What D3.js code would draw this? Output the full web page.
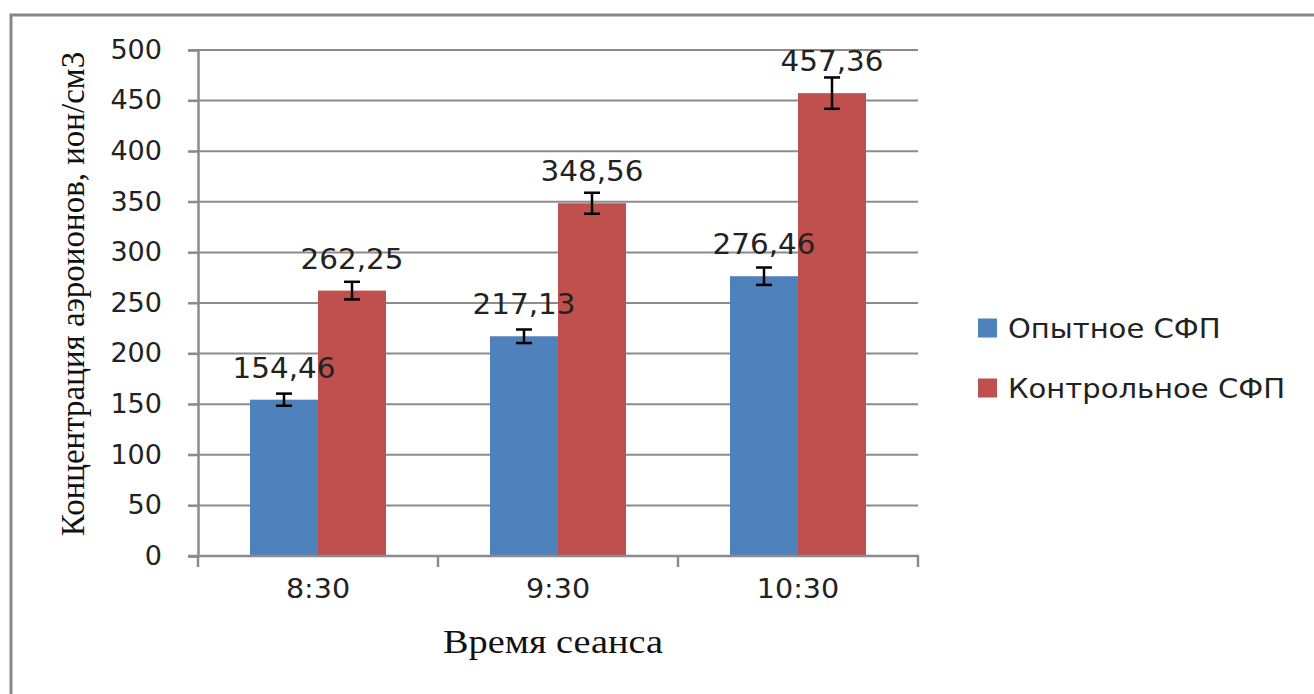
<!DOCTYPE html>
<html><head><meta charset="utf-8">
<script src="https://cdn.jsdelivr.net/npm/d3@7"></script>
<style>body{margin:0;background:#fff}svg{display:block}</style>
</head><body>
<svg id="c" width="1314" height="694"></svg>
<script>
const categories = ["8:30", "9:30", "10:30"];
const seriesNames = ["Опытное СФП", "Контрольное СФП"];
const experimental = [154.46, 217.13, 276.46];
const control = [262.25, 348.56, 457.36];
const experimentalErr = [6, 6.7, 8.6];
const controlErr = [8.7, 10.4, 15.5];
const yTicks = [0, 50, 100, 150, 200, 250, 300, 350, 400, 450, 500];
const colors = ["#4F81BD", "#C0504D"];
const yTitle = "Концентрация аэроионов, ион/см3";
const xTitle = "Время сеанса";

const values = [experimental, control];
const errs = [experimentalErr, controlErr];
const fmt = v => v.toFixed(2).replace(".", ",");

// widen text horizontally to match the reference rendering
function stretch(sel, f) {
  sel.each(function () {
    const w = this.getComputedTextLength();
    d3.select(this).attr("textLength", w * f).attr("lengthAdjust", "spacingAndGlyphs");
  });
}

const svg = d3.select("#c");
svg.append("rect").attr("x", 11).attr("y", 15).attr("width", 1400).attr("height", 800)
  .attr("fill", "none").attr("stroke", "#878787").attr("stroke-width", 3);

const x = d3.scaleBand().domain(categories).range([198, 918]).padding(0);
const xs = d3.scaleBand().domain([0, 1]).range([52, 188]).padding(0);
const y = d3.scaleLinear().domain([0, 500]).range([556, 50]);
const grid = "#8c8c8c";

svg.append("g").selectAll("line").data(yTicks.filter(d => d > 0)).join("line")
  .attr("x1", 188).attr("x2", 918).attr("y1", d => y(d)).attr("y2", d => y(d))
  .attr("stroke", grid).attr("stroke-width", 2);

const yAxis = svg.append("g").attr("transform", "translate(198,0)")
  .call(d3.axisLeft(y).tickValues(yTicks).tickSize(10).tickPadding(26));
yAxis.select(".domain").attr("stroke", grid).attr("stroke-width", 2.5);
yAxis.selectAll(".tick line").attr("stroke", grid).attr("stroke-width", 2);
yAxis.selectAll("text").attr("font-family", "DejaVu Sans").attr("font-size", 26).attr("fill", "#222")
  .call(stretch, 1.04);

values.forEach((vals, si) => {
  svg.append("g").selectAll("rect").data(vals).join("rect")
    .attr("x", (d, i) => x(categories[i]) + xs(si))
    .attr("width", xs.bandwidth())
    .attr("y", d => y(d))
    .attr("height", d => y(0) - y(d))
    .attr("fill", colors[si]);
});

const xAxis = svg.append("g").attr("transform", "translate(0,556)")
  .call(d3.axisBottom(x).tickSize(0).tickPadding(24));
xAxis.select(".domain").remove();
xAxis.selectAll("text").attr("font-family", "DejaVu Sans").attr("font-size", 26).attr("fill", "#222")
  .call(stretch, 1.1);
svg.append("line").attr("x1", 188).attr("x2", 919).attr("y1", 556).attr("y2", 556)
  .attr("stroke", grid).attr("stroke-width", 2.5);
const bounds = categories.map(c => x(c)).concat([x(categories[categories.length - 1]) + x.bandwidth()]);
svg.append("g").selectAll("line").data(bounds).join("line")
  .attr("x1", d => d).attr("x2", d => d).attr("y1", 556).attr("y2", 567)
  .attr("stroke", grid).attr("stroke-width", 2.5);

values.forEach((vals, si) => {
  const g = svg.append("g").attr("stroke", "#000").attr("stroke-width", 2.5);
  vals.forEach((v, i) => {
    const cx = x(categories[i]) + xs(si) + xs.bandwidth() / 2;
    const e = errs[si][i];
    g.append("line").attr("x1", cx).attr("x2", cx).attr("y1", y(v + e)).attr("y2", y(v - e));
    g.append("line").attr("x1", cx - 8).attr("x2", cx + 8).attr("y1", y(v + e)).attr("y2", y(v + e));
    g.append("line").attr("x1", cx - 8).attr("x2", cx + 8).attr("y1", y(v - e)).attr("y2", y(v - e));
  });
});

values.forEach((vals, si) => {
  svg.append("g").selectAll("text").data(vals).join("text")
    .attr("x", (d, i) => x(categories[i]) + xs(si) + xs.bandwidth() / 2)
    .attr("y", d => y(d) - 22)
    .attr("text-anchor", "middle")
    .attr("font-family", "DejaVu Sans").attr("font-size", 28).attr("fill", "#222")
    .text(fmt)
    .call(stretch, 1.05);
});

svg.append("text").attr("transform", "translate(84,294) rotate(-90)")
  .attr("text-anchor", "middle").attr("font-family", "Liberation Serif").attr("font-size", 33)
  .attr("fill", "#111").text(yTitle);
svg.append("text").attr("x", 553).attr("y", 653).attr("text-anchor", "middle")
  .attr("font-family", "Liberation Serif").attr("font-size", 33).attr("fill", "#111").text(xTitle)
  .call(stretch, 1.16);

const lg = svg.append("g");
seriesNames.forEach((n, i) => {
  const cy = 328 + i * 60;
  lg.append("rect").attr("x", 978).attr("y", cy - 9.5).attr("width", 19).attr("height", 19).attr("fill", colors[i]);
  lg.append("text").attr("x", 1008).attr("y", cy + 9.5).attr("font-family", "DejaVu Sans")
    .attr("font-size", 27).attr("fill", "#222").text(n)
    .call(stretch, 1.075);
});
</script>
</body></html>
